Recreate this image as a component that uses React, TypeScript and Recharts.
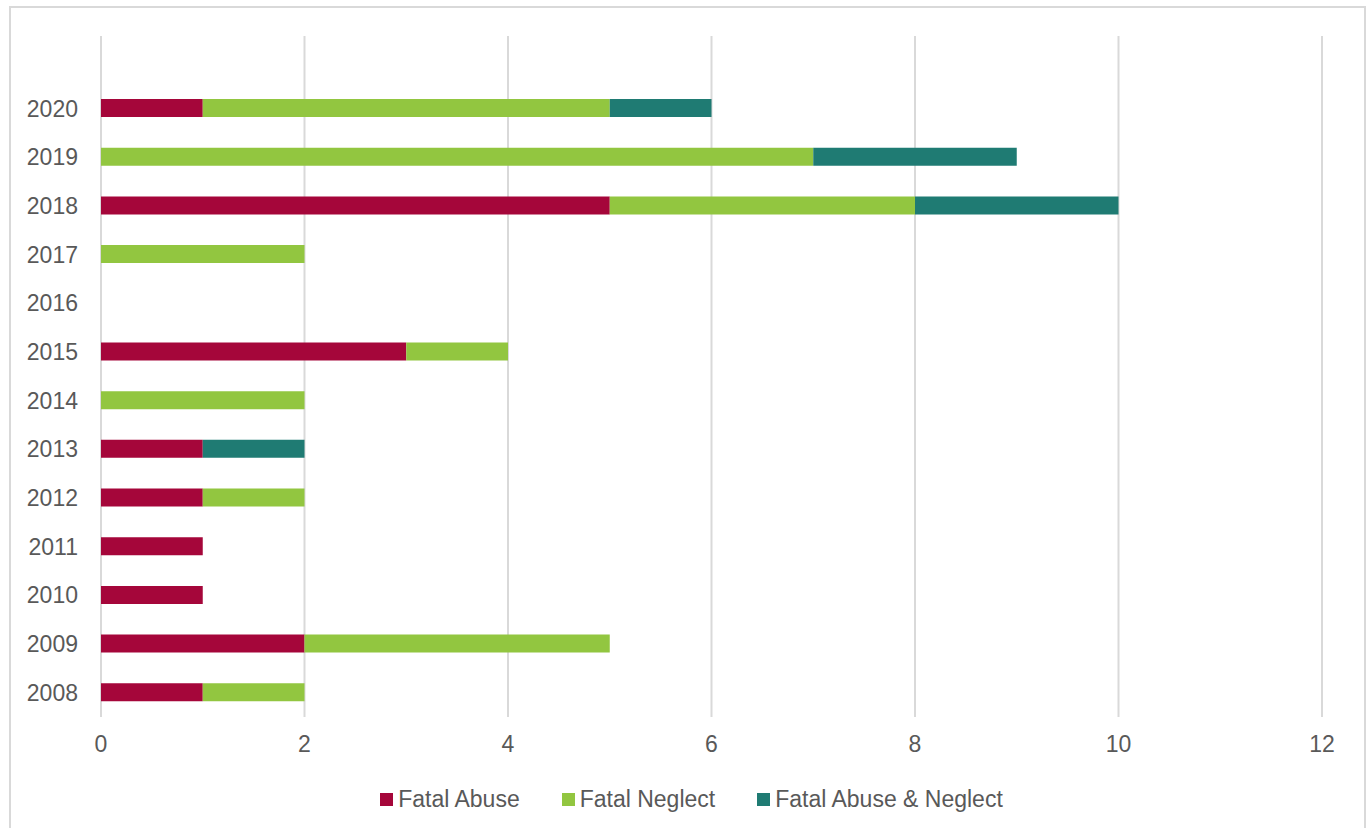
import { BarChart, Bar, XAxis, YAxis, CartesianGrid, Legend } from 'recharts';

const years = ['2008', '2009', '2010', '2011', '2012', '2013', '2014', '2015', '2016', '2017', '2018', '2019', '2020'];
const fatalAbuse = [1, 2, 1, 1, 1, 1, 0, 3, 0, 0, 5, 0, 1];
const fatalNeglect = [1, 3, 0, 0, 1, 0, 2, 1, 0, 2, 3, 7, 4];
const fatalBoth = [0, 0, 0, 0, 0, 1, 0, 0, 0, 0, 2, 2, 1];
const seriesNames = ['Fatal Abuse', 'Fatal Neglect', 'Fatal Abuse & Neglect'];
const xTicks = [0, 2, 4, 6, 8, 10, 12];

const data = years.map((year, i) => ({
  year,
  abuse: fatalAbuse[i],
  neglect: fatalNeglect[i],
  both: fatalBoth[i],
}));

const FONT = '"Liberation Sans", Arial, sans-serif';
const TEXT = '#595959';

function LegendBox({ payload }: any) {
  // keep the series order rather than recharts' alphabetical sort
  const items = [...(payload || [])].sort(
    (a: any, b: any) => seriesNames.indexOf(a.value) - seriesNames.indexOf(b.value)
  );
  return (
    <div
      style={{
        display: 'flex',
        justifyContent: 'center',
        alignItems: 'center',
        height: 30,
        paddingLeft: 14,
        fontFamily: FONT,
        fontSize: 23,
        color: TEXT,
      }}
    >
      {items.map((p: any, i: number) => (
        <div key={p.value} style={{ display: 'flex', alignItems: 'center', marginRight: i < 2 ? 42 : 0 }}>
          <span style={{ width: 13, height: 13, background: p.color, marginRight: 5, display: 'inline-block' }} />
          <span>{p.value}</span>
        </div>
      ))}
    </div>
  );
}

export default function App() {
  return (
    <div style={{ position: 'absolute', left: 0, top: 0, width: 1369, height: 828, background: '#fff', overflow: 'hidden' }}>
      <div
        style={{
          position: 'absolute',
          left: 9,
          top: 6,
          width: 1357,
          height: 840,
          border: '2px solid #d9d9d9',
          boxSizing: 'border-box',
        }}
      />
      <BarChart
        width={1369}
        height={828}
        data={data}
        layout="vertical"
        margin={{ top: 36, right: 47, left: 0, bottom: 31 }}
        style={{ position: 'absolute', left: 0, top: 0 }}
      >
        <CartesianGrid horizontal={false} stroke="#d9d9d9" strokeWidth={2} />
        <XAxis
          type="number"
          domain={[0, 12]}
          ticks={xTicks}
          interval={0}
          axisLine={false}
          tickLine={false}
          tickSize={0}
          tickMargin={19}
          height={50}
          tick={{ fill: TEXT, fontSize: 23, fontFamily: FONT }}
        />
        <YAxis
          type="category"
          dataKey="year"
          reversed
          width={101}
          padding={{ top: 48, bottom: 0 }}
          axisLine={false}
          tickLine={false}
          tickSize={0}
          tickMargin={23}
          interval={0}
          tick={{ fill: TEXT, fontSize: 23, fontFamily: FONT }}
        />
        <Legend content={<LegendBox />} wrapperStyle={{ top: 784, left: 0, width: 1369 }} />
        <Bar dataKey="abuse" name={seriesNames[0]} stackId="a" fill="#A5063A" barSize={18} isAnimationActive={false} />
        <Bar dataKey="neglect" name={seriesNames[1]} stackId="a" fill="#92C640" barSize={18} isAnimationActive={false} />
        <Bar dataKey="both" name={seriesNames[2]} stackId="a" fill="#1F7B73" barSize={18} isAnimationActive={false} />
      </BarChart>
    </div>
  );
}
